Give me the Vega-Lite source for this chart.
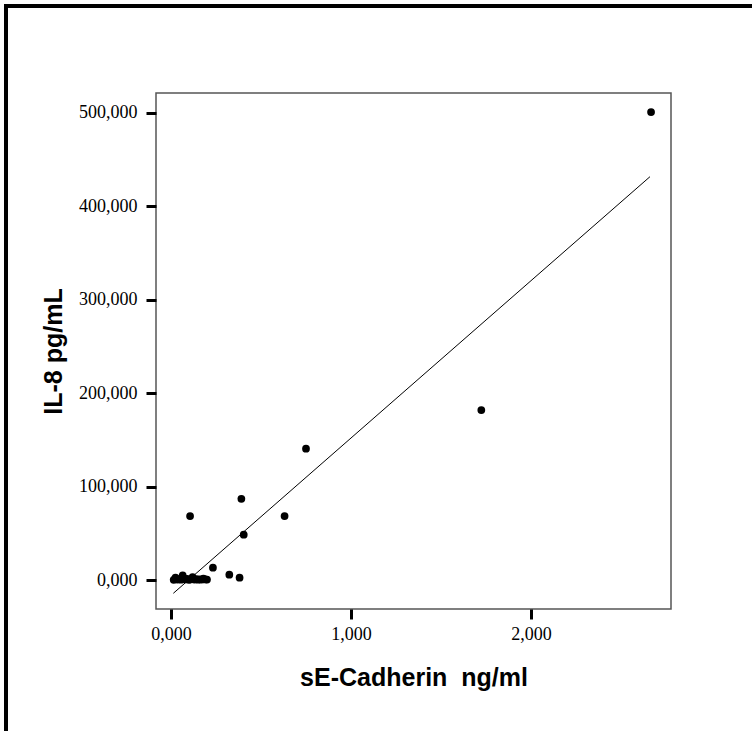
{
  "$schema": "https://vega.github.io/schema/vega-lite/v6.json",
  "padding": {"left": 4, "top": 4, "right": 0, "bottom": 0},
  "background": "white",
  "config": {
    "view": {"stroke": null},
    "axis": {
      "domain": false,
      "grid": false,
      "tickColor": "black",
      "tickWidth": 3,
      "tickSize": 10,
      "labelFont": "Liberation Serif",
      "labelFontSize": 18,
      "labelColor": "black",
      "titleFont": "Liberation Sans",
      "titleFontWeight": "bold",
      "titleFontSize": 25,
      "titleColor": "black"
    }
  },
  "datasets": {
    "points": [
      {"sEcad": 2.667, "il8": 501.0},
      {"sEcad": 1.724, "il8": 182.0},
      {"sEcad": 0.750, "il8": 140.6},
      {"sEcad": 0.391, "il8": 87.0},
      {"sEcad": 0.106, "il8": 68.5},
      {"sEcad": 0.631, "il8": 68.5},
      {"sEcad": 0.404, "il8": 48.5},
      {"sEcad": 0.233, "il8": 13.2},
      {"sEcad": 0.324, "il8": 5.7},
      {"sEcad": 0.381, "il8": 2.5},
      {"sEcad": 0.015, "il8": 0.3},
      {"sEcad": 0.025, "il8": 2.5},
      {"sEcad": 0.035, "il8": 0.5},
      {"sEcad": 0.045, "il8": 1.0},
      {"sEcad": 0.055, "il8": 0.4},
      {"sEcad": 0.065, "il8": 5.0},
      {"sEcad": 0.072, "il8": 1.5},
      {"sEcad": 0.080, "il8": 0.6},
      {"sEcad": 0.090, "il8": 1.2},
      {"sEcad": 0.100, "il8": 0.3},
      {"sEcad": 0.110, "il8": 0.8},
      {"sEcad": 0.120, "il8": 3.2},
      {"sEcad": 0.130, "il8": 0.5},
      {"sEcad": 0.140, "il8": 1.0},
      {"sEcad": 0.150, "il8": 0.4},
      {"sEcad": 0.160, "il8": 0.8},
      {"sEcad": 0.170, "il8": 0.5},
      {"sEcad": 0.180, "il8": 1.4},
      {"sEcad": 0.190, "il8": 0.6},
      {"sEcad": 0.200, "il8": 0.5}
    ],
    "fit": [
      {"sEcad": 0.013, "il8": -14.2},
      {"sEcad": 2.661, "il8": 431.8}
    ],
    "empty": []
  },
  "spacing": 0,
  "vconcat": [
    {
      "width": 748,
      "height": 4,
      "view": {"fill": "black", "stroke": null},
      "data": {"name": "empty"},
      "mark": "point"
    },
    {
      "spacing": 32,
      "hconcat": [
        {
          "width": 4,
          "height": 723,
          "view": {"fill": "black", "stroke": null},
          "data": {"name": "empty"},
          "mark": "point"
        },
        {
          "spacing": 83,
          "vconcat": [
            {
              "width": 1,
              "height": 1,
              "view": {"fill": null, "stroke": null},
              "data": {"name": "empty"},
              "mark": "point"
            },
            {
              "width": 515,
              "height": 516,
              "view": {"stroke": "#555555", "strokeWidth": 1.5, "fill": "white"},
              "encoding": {
                "x": {
                  "field": "sEcad",
                  "type": "quantitative",
                  "scale": {"domain": [-0.0833, 2.7778], "nice": false, "zero": false},
                  "axis": {
                    "values": [0, 1, 2],
                    "labelExpr": "replace(format(datum.value, '.3f'), '.', ',')",
                    "labelPadding": 6,
                    "titlePadding": 22,
                    "title": "sE-Cadherin\u00a0 ng/ml"
                  }
                },
                "y": {
                  "field": "il8",
                  "type": "quantitative",
                  "scale": {"domain": [-31, 521.4], "nice": false, "zero": false},
                  "axis": {
                    "values": [0, 100, 200, 300, 400, 500],
                    "labelExpr": "replace(format(datum.value, '.3f'), '.', ',')",
                    "labelPadding": 9,
                    "titlePadding": 12,
                    "title": "IL-8 pg/mL"
                  }
                }
              },
              "layer": [
                {
                  "data": {"name": "fit"},
                  "mark": {"type": "line", "color": "black", "strokeWidth": 1}
                },
                {
                  "data": {"name": "points"},
                  "mark": {"type": "circle", "size": 60, "color": "black", "opacity": 1}
                }
              ]
            }
          ]
        }
      ]
    }
  ]
}
